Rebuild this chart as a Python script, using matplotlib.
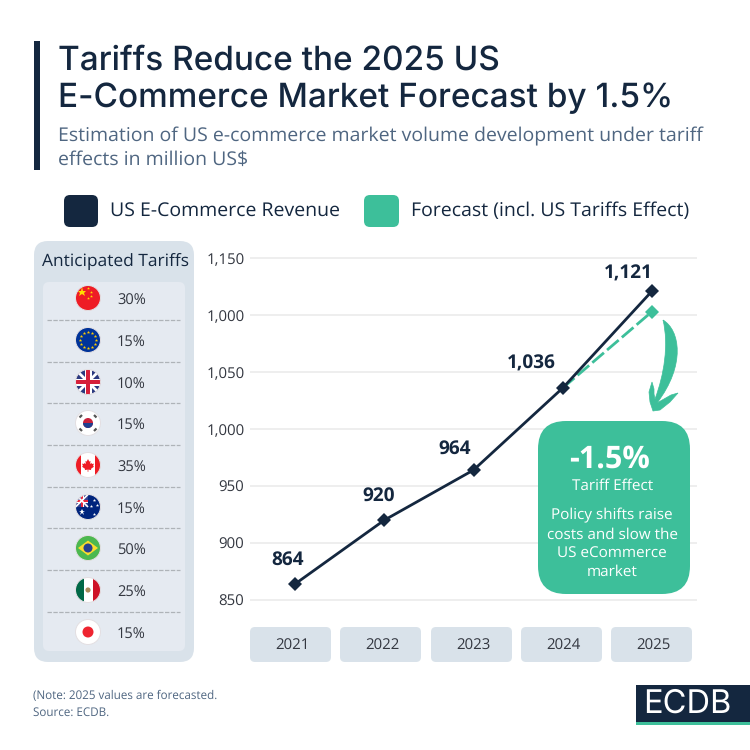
#! /usr/bin/env python3

import numpy as np
import matplotlib
matplotlib.use('Agg')
import matplotlib.pyplot as plt
from matplotlib.patches import FancyBboxPatch, Circle, Rectangle, Polygon, PathPatch
from matplotlib.path import Path

years = ['2021', '2022', '2023', '2024', '2025']
revenue = [864, 920, 964, 1036, 1121]
forecast_years = ['2024', '2025']
forecast = [1036, 1103]
y_ticks = [850, 900, 950, 1000, 1050, 1100, 1150]
# the source really prints 1,000 twice
y_labels = ['850', '900', '950', '1,000', '1,050', '1,000', '1,150']
countries = ['China', 'EU', 'UK', 'Korea', 'Canada', 'Australia', 'Brazil', 'Mexico', 'Japan']
tariffs = ['30%', '15%', '10%', '15%', '35%', '15%', '50%', '25%', '15%']

NAVY = '#14273f'
TEAL = '#3dbf9a'
SLATE = '#4f6681'
FONT = 'Open Sans'

plt.rcParams['font.family'] = [FONT, 'DejaVu Sans']
plt.rcParams['text.hinting'] = 'no_hinting'

fig = plt.figure(figsize=(7.5, 7.5), dpi=100)

# page axes, coordinates are pixels from the top left
bg = fig.add_axes([0, 0, 1, 1], zorder=0)
bg.set_xlim(0, 750)
bg.set_ylim(750, 0)
bg.axis('off')

top = fig.add_axes([0, 0, 1, 1], zorder=5)
top.set_xlim(0, 750)
top.set_ylim(750, 0)
top.axis('off')
top.patch.set_alpha(0)


def round_box(ax, x0, y0, x1, y1, r, color, zorder=1):
    p = FancyBboxPatch((x0 + r, y0 + r), x1 - x0 - 2 * r, y1 - y0 - 2 * r,
                       boxstyle='round,pad=%g,rounding_size=%g' % (r, r),
                       fc=color, ec='none', zorder=zorder)
    ax.add_patch(p)
    return p


# header
bg.add_patch(Rectangle((34, 41), 6, 129, fc=NAVY, ec='none'))
bg.text(58, 61, 'Tariffs Reduce the 2025 US', fontsize=24, color=NAVY, family='Inter',
        weight='medium', va='center')
bg.text(58, 98, 'E-Commerce Market Forecast by 1.5%', fontsize=24, color=NAVY, family='Inter',
        weight='medium', va='center')
bg.text(58, 136, 'Estimation of US e-commerce market volume development under tariff',
        fontsize=14, color=SLATE, va='center')
bg.text(58, 160, 'effects in million US$', fontsize=14, color=SLATE, va='center')

# legend
round_box(bg, 64, 195, 98, 227, 6, NAVY)
bg.text(110, 211, 'US E-Commerce Revenue', fontsize=14, color=NAVY, va='center')
round_box(bg, 364, 195, 399, 227, 6, TEAL)
bg.text(411, 211, 'Forecast (incl. US Tariffs Effect)', fontsize=14, color=NAVY, va='center')

# tariffs panel
round_box(bg, 34, 241, 194, 662, 14, '#d9e2ea')
round_box(bg, 43, 282, 185, 651, 6, '#e5eaf1', zorder=2)
bg.text(115.5, 261.5, 'Anticipated Tariffs', fontsize=12.5, color=NAVY, ha='center', va='center')

maple_leaf = [(0, -7), (1.6, -4), (3, -4.8), (2.4, -1), (4, -2.6), (4.6, -1.2), (7, -1.6),
              (6, 1), (7, 2), (3.4, 4.6), (3.8, 6), (0.4, 5.4), (0.4, 8), (-0.4, 8), (-0.4, 5.4),
              (-3.8, 6), (-3.4, 4.6), (-7, 2), (-6, 1), (-7, -1.6), (-4.6, -1.2), (-4, -2.6),
              (-2.4, -1), (-3, -4.8), (-1.6, -4)]


def draw_flag(name, cx, cy, r=12.5):
    disc = Circle((cx, cy), r, transform=bg.transData)
    z = 4

    def rect(x, y, w, h, c):
        a = Rectangle((cx + x, cy + y), w, h, fc=c, ec='none', zorder=z)
        a.set_clip_path(disc)
        bg.add_patch(a)

    def dot(x, y, rr, c):
        a = Circle((cx + x, cy + y), rr, fc=c, ec='none', zorder=z + 1)
        a.set_clip_path(disc)
        bg.add_patch(a)

    def star(x, y, s, c):
        bg.plot([cx + x], [cy + y], marker='*', ms=s, color=c, mew=0, zorder=z + 2)

    def diag(x0, y0, x1, y1, c, lw):
        l, = bg.plot([cx + x0, cx + x1], [cy + y0, cy + y1], color=c, lw=lw, zorder=z + 1,
                     solid_capstyle='butt')
        l.set_clip_path(disc)

    if name == 'China':
        rect(-r, -r, 2 * r, 2 * r, '#ee1c25')
        star(-6, -6, 6.5, '#ffde00')
        for x, y in [(0, -10), (3, -6), (3, -2), (0, 0)]:
            star(x, y, 2.2, '#ffde00')
    elif name == 'EU':
        rect(-r, -r, 2 * r, 2 * r, '#003399')
        for a in np.deg2rad(np.arange(0, 360, 30)):
            star(8 * np.cos(a), 8 * np.sin(a), 2.6, '#ffcc00')
    elif name == 'UK':
        rect(-r, -r, 2 * r, 2 * r, '#2b3a80')
        diag(-r, -r, r, r, 'white', 2)
        diag(-r, r, r, -r, 'white', 2)
        rect(-3.5, -r, 7, 2 * r, 'white')
        rect(-r, -3.5, 2 * r, 7, 'white')
        bg.add_patch(Rectangle((cx - 2, cy - r), 4, 2 * r, fc='#d6203a', ec='none', zorder=z + 2))
        bg.add_patch(Rectangle((cx - r, cy - 2), 2 * r, 4, fc='#d6203a', ec='none', zorder=z + 2))
    elif name == 'Korea':
        rect(-r, -r, 2 * r, 2 * r, 'white')
        dot(0, 0, 5, '#c8203a')
        a = Rectangle((cx - 5, cy), 10, 5, fc='#1f3f8f', ec='none', zorder=z + 2)
        a.set_clip_path(Circle((cx, cy), 5, transform=bg.transData))
        bg.add_patch(a)
        for sx, sy in [(-1, -1), (1, -1), (-1, 1), (1, 1)]:
            diag(sx * 6, sy * 8, sx * 8.5, sy * 5.5, '#555555', 1.6)
    elif name == 'Canada':
        rect(-r, -r, 2 * r, 2 * r, 'white')
        rect(-r, -r, 5.5, 2 * r, '#ee1c25')
        rect(r - 5.5, -r, 5.5, 2 * r, '#ee1c25')
        bg.add_patch(Polygon([(cx + 0.85 * x, cy + 0.85 * y) for x, y in maple_leaf],
                             fc='#ee1c25', ec='none', zorder=z + 1))
    elif name == 'Australia':
        rect(-r, -r, 2 * r, 2 * r, '#00247d')
        rect(-r, -r, r, r, '#33418f')
        diag(-r, -r, 0, 0, 'white', 1.2)
        diag(-r, 0, 0, -r, 'white', 1.2)
        rect(-7.5, -r, 3, r, 'white')
        rect(-r, -7.5, r, 3, 'white')
        rect(-6.7, -r, 1.4, r, '#e8283c')
        rect(-r, -6.7, r, 1.4, '#e8283c')
        star(-6, 5, 4.5, 'white')
        for x, y in [(6, -7), (9, -2), (3, -1), (6, 7)]:
            star(x, y, 2.5, 'white')
    elif name == 'Brazil':
        rect(-r, -r, 2 * r, 2 * r, '#4cb84f')
        bg.add_patch(Polygon([(cx - 10, cy), (cx, cy - 7.5), (cx + 10, cy), (cx, cy + 7.5)],
                             fc='#fbdc2e', ec='none', zorder=z + 1))
        bg.add_patch(Circle((cx, cy), 4.5, fc='#28408f', ec='none', zorder=z + 2))
    elif name == 'Mexico':
        rect(-r, -r, 2 * r, 2 * r, 'white')
        rect(-r, -r, 8, 2 * r, '#006847')
        rect(r - 8, -r, 8, 2 * r, '#ce1126')
        dot(0, 0, 2.6, '#a98a5c')
    elif name == 'Japan':
        rect(-r, -r, 2 * r, 2 * r, 'white')
        dot(0, 0, 5.5, '#ee2430')
    # thin outline, the white flags need it
    bg.add_patch(Circle((cx, cy), r, fc='none', ec='#e3dfe2', lw=0.7, zorder=z + 3))


flag_y = [298, 340, 382, 423, 465, 507, 548, 590, 632]
for i in range(len(countries)):
    draw_flag(countries[i], 88, flag_y[i])
    bg.text(117, flag_y[i] + 3, tariffs[i], fontsize=10.5, color='#333740', va='center', zorder=5)
    if i < len(countries) - 1:
        bg.plot([47, 180], [(flag_y[i] + flag_y[i + 1]) / 2 + 0.5] * 2, color='#aeb3b8', lw=0.9,
                dashes=(3.5, 1.2), zorder=3)

# category boxes under the chart
box_lefts = [250, 340, 431, 521, 611]
for left, year in zip(box_lefts, years):
    round_box(bg, left, 627, left + 81, 662, 5, '#d9e2ea')
    bg.text(left + 42, 645.5, year, fontsize=10.8, color='#333740', ha='center', va='center')

# chart
ax = fig.add_axes([250 / 750, 1 - 620 / 750, 447 / 750, 370 / 750], zorder=2)
ax.patch.set_alpha(0)
x_pos = np.arange(len(years))
ax.set_xlim(-0.504, 4.504)
px_per_unit = 57 / 50
ax.set_ylim(850 - 20 / px_per_unit, 850 + 350 / px_per_unit)
for s in ax.spines.values():
    s.set_visible(False)
ax.set_xticks([])
ax.set_yticks(y_ticks)
ax.set_yticklabels(y_labels, fontsize=10.8, color='#333740')
ax.tick_params(axis='y', length=0, pad=4)
ax.grid(axis='y', color='#ebebeb', lw=1.2)
ax.set_axisbelow(True)

fc_x = [years.index(y) for y in forecast_years]
ax.plot(fc_x, forecast, color=TEAL, lw=2, dashes=(5.5, 1.5), zorder=3)
ax.plot(fc_x[1:], forecast[1:], color=TEAL, marker='D', ms=7.5, mew=0, ls='', zorder=3)
ax.plot(x_pos, revenue, color=NAVY, lw=2, marker='D', ms=7.5, mew=0, zorder=4)

label_offsets = [(-7, 24.5), (-6, 24.5), (-19, 21.5), (-31, 24), (-24, 17.5)]
for i in range(len(years)):
    dx, dy = label_offsets[i]
    ax.annotate(format(revenue[i], ','), (x_pos[i], revenue[i]),
                xytext=(dx * 0.72, dy * 0.72), textcoords='offset points',
                fontsize=13.7, weight='bold', color=NAVY, ha='center', va='center')

# curved arrow
arrow_verts = [(663, 320), (680, 330), (686, 365), (657, 403),
               (664, 399), (671, 395), (678, 393),
               (670, 402), (660, 410), (653, 411),
               (650, 402), (649, 392), (652, 382),
               (654, 389), (654, 394), (655, 399),
               (664, 375), (669, 345), (663, 320)]
arrow_codes = [Path.MOVETO, Path.CURVE4, Path.CURVE4, Path.CURVE4,
               Path.LINETO, Path.LINETO, Path.LINETO,
               Path.LINETO, Path.LINETO, Path.LINETO,
               Path.LINETO, Path.LINETO, Path.LINETO,
               Path.LINETO, Path.LINETO, Path.LINETO,
               Path.CURVE4, Path.CURVE4, Path.CURVE4]
top.add_patch(PathPatch(Path(arrow_verts, arrow_codes), fc=TEAL, ec=TEAL, lw=0.5))

# callout
round_box(top, 538, 421, 690, 594, 28, TEAL)
top.text(610, 460, '-1.5%', fontsize=22, weight='bold', color='white', ha='center', va='center')
top.text(613, 486, 'Tariff Effect', fontsize=11, color='white', ha='center', va='center')
callout_lines = ['Policy shifts raise', 'costs and slow the', 'US eCommerce', 'market']
for y, line in zip([515, 535, 554, 572], callout_lines):
    top.text(612, y, line, fontsize=11, color='white', ha='center', va='center')

# footer
bg.text(33, 696, '(Note: 2025 values are forecasted.', fontsize=8.4, color=SLATE, va='center')
bg.text(33, 713, 'Source: ECDB.', fontsize=8.4, color=SLATE, va='center')
bg.add_patch(Rectangle((636, 685), 114, 40, fc=NAVY, ec='none'))
bg.add_patch(Rectangle((636, 722), 114, 3, fc=TEAL, ec='none'))
bg.text(643, 704, 'ECDB', fontsize=23.5, color='white', family='Inter', weight='normal', va='center')

fig.savefig('out.png', dpi=100)
